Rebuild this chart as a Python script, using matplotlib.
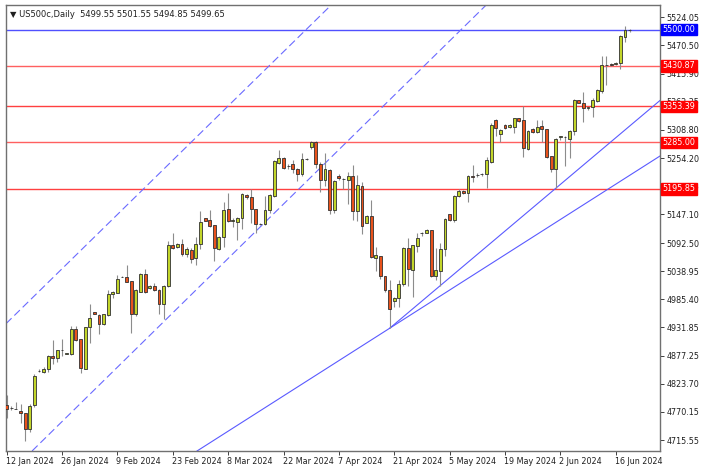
import numpy as np
import matplotlib
matplotlib.use("Agg")
import matplotlib.pyplot as plt
import matplotlib.transforms as mtransforms

# daily OHLC, US500c (bar index 0 = 12 Jan 2024, one bar per session incl. Sundays)
opens = [4783.4, 4776.7, 4775.7, 4772.5, 4767.5, 4737.0, 4782.8, 4848.3, 4846.3, 4852.1,
         4877.5, 4872.5, 4887.8, 4881.3, 4880.7, 4928.4, 4908.8, 4852.6, 4931.7, 4960.3,
         4955.2, 4938.0, 4955.2, 4995.3, 4997.7, 5028.3, 5028.3, 5020.1, 4956.5, 5000.0,
         5032.9, 5006.1, 5011.1, 5002.9, 4976.2, 5010.5, 5088.2, 5084.4, 5090.1, 5071.0,
         5079.3, 5063.4, 5090.1, 5139.8, 5136.5, 5127.0, 5081.2, 5104.6, 5157.5, 5135.2,
         5133.3, 5140.9, 5184.2, 5179.8, 5156.9, 5129.5, 5128.9, 5155.6, 5182.3, 5245.9,
         5255.4, 5239.6, 5242.9, 5233.3, 5224.3, 5253.0, 5275.3, 5286.0, 5242.9, 5212.9,
         5232.0, 5155.6, 5221.1, 5214.2, 5212.9, 5220.5, 5154.3, 5202.0, 5131.4, 5144.2,
         5063.4, 5067.8, 5029.6, 5002.9, 4981.9, 4987.0, 5013.8, 5083.6, 5041.1, 5086.9,
         5111.1, 5112.3, 5117.4, 5030.2, 5039.7, 5080.6, 5147.4, 5136.5, 5182.3, 5191.9,
         5187.5, 5221.1, 5222.4, 5223.8, 5223.8, 5247.8, 5327.4, 5300.1, 5317.9, 5313.5,
         5313.5, 5330.7, 5327.4, 5272.1, 5311.2, 5304.5, 5316.0, 5309.7, 5258.7, 5233.9,
         5295.5, 5295.0, 5290.6, 5306.4, 5365.6, 5359.3, 5350.9, 5351.7, 5364.3, 5383.3,
         5432.4, 5433.7, 5433.7, 5435.7, 5486.4, 5499.55]
highs = [4802.4, 4780.5, 4789.7, 4784.7, 4768.0, 4785.2, 4842.5, 4852.1, 4856.5, 4878.8,
         4906.9, 4889.0, 4908.8, 4882.6, 4934.2, 4934.2, 4909.5, 4932.5, 4975.6, 4961.5,
         4956.5, 4957.0, 5002.9, 5001.5, 5032.1, 5029.6, 5050.6, 5020.8, 5004.2, 5035.9,
         5043.0, 5013.0, 5015.7, 5005.4, 5013.0, 5097.0, 5111.1, 5093.2, 5100.2, 5084.4,
         5082.5, 5104.6, 5153.7, 5140.9, 5155.6, 5127.8, 5106.0, 5171.5, 5187.5, 5139.8,
         5142.8, 5187.5, 5185.6, 5195.7, 5157.5, 5131.4, 5182.3, 5186.1, 5251.1, 5270.2,
         5257.4, 5242.9, 5251.1, 5235.2, 5263.8, 5254.0, 5287.3, 5286.6, 5246.7, 5263.8,
         5233.3, 5212.9, 5223.8, 5217.3, 5228.7, 5241.5, 5222.4, 5208.5, 5146.1, 5174.7,
         5085.5, 5068.5, 5030.3, 5022.0, 4990.1, 5022.0, 5085.5, 5101.6, 5089.5, 5112.3,
         5113.0, 5118.8, 5118.0, 5083.6, 5092.0, 5140.9, 5148.0, 5184.2, 5195.1, 5193.8,
         5222.4, 5241.5, 5225.7, 5225.7, 5257.4, 5321.1, 5329.3, 5309.7, 5319.2, 5319.8,
         5331.8, 5331.8, 5354.7, 5308.3, 5312.1, 5327.4, 5327.4, 5310.5, 5259.5, 5292.5,
         5296.9, 5296.9, 5308.3, 5367.5, 5366.2, 5381.4, 5352.8, 5368.8, 5386.6, 5449.6,
         5449.6, 5435.7, 5438.7, 5489.7, 5506.9, 5501.55]
lows = [4758.5, 4773.8, 4775.1, 4748.4, 4715.2, 4731.2, 4780.1, 4845.8, 4845.0, 4846.9,
        4862.2, 4866.0, 4876.9, 4880.1, 4879.4, 4906.1, 4843.9, 4852.1, 4902.3, 4956.5,
        4918.3, 4936.1, 4953.8, 4987.0, 4997.0, 5027.1, 5017.6, 4920.2, 4953.8, 4998.5,
        4996.6, 5004.8, 5001.5, 4956.5, 4947.0, 5009.2, 5081.2, 5082.5, 5067.8, 5066.5,
        5053.9, 5050.6, 5080.6, 5134.6, 5123.7, 5058.3, 5079.3, 5085.5, 5132.1, 5122.6,
        5098.3, 5118.8, 5177.2, 5131.4, 5111.1, 5126.4, 5127.0, 5149.3, 5179.8, 5243.4,
        5233.3, 5233.3, 5225.7, 5211.5, 5220.5, 5251.1, 5271.5, 5235.2, 5189.4, 5202.0,
        5147.4, 5149.3, 5212.9, 5195.1, 5166.5, 5136.5, 5134.6, 5109.2, 5130.2, 5064.5,
        5039.7, 5023.3, 5000.0, 4929.8, 4971.0, 4971.0, 5011.1, 5010.5, 4990.1, 5076.0,
        5106.0, 5111.1, 5028.5, 5022.0, 5011.1, 5067.8, 5135.2, 5133.3, 5181.0, 5186.1,
        5171.5, 5209.6, 5219.2, 5221.1, 5197.0, 5244.8, 5296.9, 5286.0, 5310.2, 5312.1,
        5302.0, 5323.6, 5257.4, 5270.2, 5303.5, 5302.6, 5286.0, 5254.9, 5228.7, 5197.0,
        5289.2, 5240.2, 5254.3, 5298.8, 5359.3, 5324.2, 5346.5, 5333.7, 5362.4, 5379.5,
        5394.2, 5431.1, 5432.4, 5424.2, 5475.7, 5494.85]
closes = [4775.7, 4777.6, 4776.3, 4767.5, 4737.5, 4782.0, 4839.3, 4848.6, 4852.1, 4877.5,
          4872.5, 4887.8, 4887.5, 4881.6, 4928.4, 4906.9, 4853.4, 4931.7, 4950.0, 4957.1,
          4938.0, 4956.5, 4995.3, 4999.6, 5023.9, 5028.0, 5018.7, 4956.5, 5002.9, 5033.4,
          4999.1, 5011.1, 5002.9, 4976.2, 5011.1, 5088.2, 5082.5, 5090.1, 5071.0, 5081.2,
          5062.1, 5090.1, 5132.1, 5135.2, 5125.6, 5082.5, 5104.6, 5155.6, 5135.2, 5135.5,
          5140.9, 5185.6, 5179.8, 5156.9, 5128.3, 5129.2, 5155.6, 5184.2, 5249.1, 5255.4,
          5235.2, 5239.3, 5233.3, 5224.3, 5253.5, 5253.3, 5286.0, 5242.9, 5212.9, 5233.3,
          5155.6, 5211.5, 5216.1, 5214.5, 5220.5, 5153.7, 5203.3, 5125.1, 5144.2, 5065.3,
          5069.7, 5029.6, 5002.9, 4966.6, 4988.2, 5013.8, 5083.6, 5042.4, 5088.8, 5101.6,
          5111.4, 5117.4, 5030.2, 5041.1, 5080.6, 5137.9, 5136.5, 5182.3, 5191.9, 5187.5,
          5220.5, 5218.0, 5222.7, 5223.5, 5251.1, 5317.9, 5312.1, 5308.3, 5311.6, 5317.9,
          5330.7, 5325.5, 5274.5, 5306.4, 5304.5, 5314.6, 5309.7, 5257.4, 5233.9, 5290.6,
          5295.8, 5295.4, 5306.4, 5365.6, 5360.4, 5349.8, 5351.2, 5365.6, 5384.7, 5432.4,
          5432.0, 5433.4, 5436.8, 5487.8, 5499.2, 5499.65]

date_labels = ["12 Jan 2024", "26 Jan 2024", "9 Feb 2024", "23 Feb 2024", "8 Mar 2024",
               "22 Mar 2024", "7 Apr 2024", "21 Apr 2024", "5 May 2024", "19 May 2024",
               "2 Jun 2024", "16 Jun 2024"]
bars_per_label = 12

price_ticks = [5524.05, 5470.50, 5415.90, 5362.35, 5308.80, 5254.20, 5200.65, 5147.10,
               5092.50, 5038.95, 4985.40, 4931.85, 4877.25, 4823.70, 4770.15, 4715.55]

# horizontal levels
levels = [5500.00, 5430.87, 5353.39, 5285.00, 5195.85]
level_colors = ["#5050ff", "#ff6060", "#ff4040", "#ff6060", "#ff4040"]
level_box = ["#0000ff", "#ff0000", "#ff0000", "#ff0000", "#ff0000"]

# trend lines: (bar, price) anchors
channel_upper = [(0, 4939.9), (70, 5544.1)]
channel_lower = [(5.5, 4695.5), (103.7, 5545.0)]
support_flat = [(83, 4929.8), (141.6, 5258.7)]
support_steep = [(83, 4929.8), (119, 5197.0)]

header = "\u25bc US500c,Daily  5499.55 5501.55 5494.85 5499.65"

bull = "#c2d52a"
bear = "#e8521c"

o = np.array(opens); h = np.array(highs); l = np.array(lows); c = np.array(closes)
x = np.arange(len(o))

fig = plt.figure(figsize=(7.06, 4.67), dpi=100)
ax = fig.add_axes([6/706, 1-451/467, 654/706, 446/467])

ax.vlines(x, l, h, color="#8c8c8c", lw=0.8, zorder=2)
body_bot = np.minimum(o, c)
body_h = np.maximum(np.abs(c - o), 0.6)
cols = [bull if cc >= oo else bear for oo, cc in zip(o, c)]
ax.bar(x, body_h, bottom=body_bot, width=0.62, color=cols, edgecolor="#303030",
       linewidth=0.6, zorder=3)

for lv, lc in zip(levels, level_colors):
    ax.axhline(lv, color=lc, lw=1.0, zorder=1.5)

dash = (0, (7, 3.5))
ax.axline(*channel_upper, color="#6a6aff", lw=0.8, linestyle=dash, zorder=1.6)
ax.axline(*channel_lower, color="#6a6aff", lw=0.8, linestyle=dash, zorder=1.6)
ax.axline(*support_flat, color="#5a5aff", lw=0.8, zorder=1.6)
s0, s1 = support_steep
slope = (s1[1] - s0[1]) / (s1[0] - s0[0])
ax.plot([s0[0], 150], [s0[1], s0[1] + slope * (150 - s0[0])], color="#5a5aff", lw=0.8, zorder=1.6)

ax.set_xlim(-0.15, 141.6)
ax.set_ylim(4695.5, 5547.0)

ax.yaxis.tick_right()
ax.set_yticks(price_ticks)
ax.set_yticklabels(["%.2f" % p for p in price_ticks])
ax.set_xticks(np.arange(len(date_labels)) * bars_per_label)
ax.set_xticklabels(date_labels, ha="left")
ax.tick_params(axis="y", length=3, width=0.6, pad=1.5, labelsize=5.8, colors="#202020")
ax.tick_params(axis="x", length=3, width=0.6, pad=1.5, labelsize=5.8, colors="#202020")
for lab in ax.get_xticklabels():
    lab.set_x(lab.get_position()[0])
offset = mtransforms.ScaledTranslation(-1/100, 0, fig.dpi_scale_trans)
for lab in ax.get_xticklabels():
    lab.set_transform(lab.get_transform() + offset)

for s in ax.spines.values():
    s.set_color("#707070")
    s.set_linewidth(1.0)

trans = mtransforms.blended_transform_factory(ax.transAxes, ax.transData)
for lv, bc in zip(levels, level_box):
    ax.text(1.004, lv, "%.2f" % lv, transform=trans, ha="left", va="center",
            fontsize=5.8, color="white", clip_on=False, zorder=10,
            bbox=dict(boxstyle="square,pad=0.15", fc=bc, ec=bc))

ax.text(0.006, 0.988, header, transform=ax.transAxes, ha="left", va="top",
        fontsize=6, color="#202020")

fig.savefig("out.png", dpi=100)
